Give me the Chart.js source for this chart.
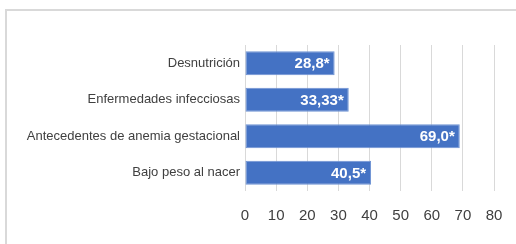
<!DOCTYPE html>
<html>
<head>
<meta charset="utf-8">
<script src="https://cdn.jsdelivr.net/npm/chart.js@4"></script>
<style>
  html, body { margin: 0; padding: 0; background: #fff; }
  #wrap { position: relative; width: 516px; height: 244px; overflow: hidden; }
  #frame { position: absolute; left: 5px; top: 9px; width: 600px; height: 400px;
           border: 2px solid #d9d9d9; box-sizing: border-box; }
  canvas { position: absolute; left: 0; top: 0; }
</style>
</head>
<body>
<div id="wrap">
  <div id="frame"></div>
  <canvas id="c" width="516" height="244"></canvas>
</div>
<script>
// Factores asociados
const categories = [
  'Desnutrición',
  'Enfermedades infecciosas',
  'Antecedentes de anemia gestacional',
  'Bajo peso al nacer'
];
const values = [28.8, 33.33, 69.0, 40.5];
const decimals = [1, 2, 1, 1];
const xTicks = [0, 10, 20, 30, 40, 50, 60, 70, 80];

// draw "28,8*" etc inside the bar end
const valueLabels = {
  id: 'valueLabels',
  afterDatasetsDraw(chart) {
    const ctx = chart.ctx;
    const meta = chart.getDatasetMeta(0);
    ctx.save();
    ctx.font = 'bold 15px "Liberation Sans", Arial, sans-serif';
    ctx.fillStyle = '#fff';
    ctx.textAlign = 'right';
    ctx.textBaseline = 'middle';
    meta.data.forEach((bar, i) => {
      const txt = values[i].toFixed(decimals[i]).replace('.', ',') + '*';
      ctx.fillText(txt, bar.x - 5, bar.y + 1);
    });
    ctx.restore();
  }
};

new Chart(document.getElementById('c'), {
  type: 'bar',
  data: {
    labels: categories,
    datasets: [{
      data: values,
      backgroundColor: '#4472c4',
      borderColor: '#6f93d3',
      borderWidth: 1,
      borderSkipped: false,
      categoryPercentage: 1,
      barPercentage: 0.66
    }]
  },
  options: {
    indexAxis: 'y',
    responsive: false,
    animation: false,
    layout: { padding: { left: 0, right: 22, top: 45, bottom: 21 } },
    scales: {
      x: {
        min: 0,
        max: 80,
        afterBuildTicks(scale) { scale.ticks = xTicks.map(v => ({ value: v })); },
        afterFit(scale) {
          scale.height = 32;
          scale.paddingLeft = 0;
          scale.paddingRight = 0;
        },
        border: { display: false },
        grid: { color: '#d9d9d9', lineWidth: 1, tickLength: 0 },
        ticks: {
          color: '#404040',
          padding: 16,
          maxRotation: 0,
          font: { family: '"Liberation Sans", Arial, sans-serif', size: 15 }
        }
      },
      y: {
        afterFit(scale) { scale.width = 245; },
        border: { display: false },
        grid: { display: false, drawTicks: false },
        ticks: {
          color: '#404040',
          padding: 5,
          font: { family: '"Liberation Sans", Arial, sans-serif', size: 13 }
        }
      }
    },
    plugins: {
      legend: { display: false },
      tooltip: { enabled: false }
    }
  },
  plugins: [valueLabels]
});
</script>
</body>
</html>
